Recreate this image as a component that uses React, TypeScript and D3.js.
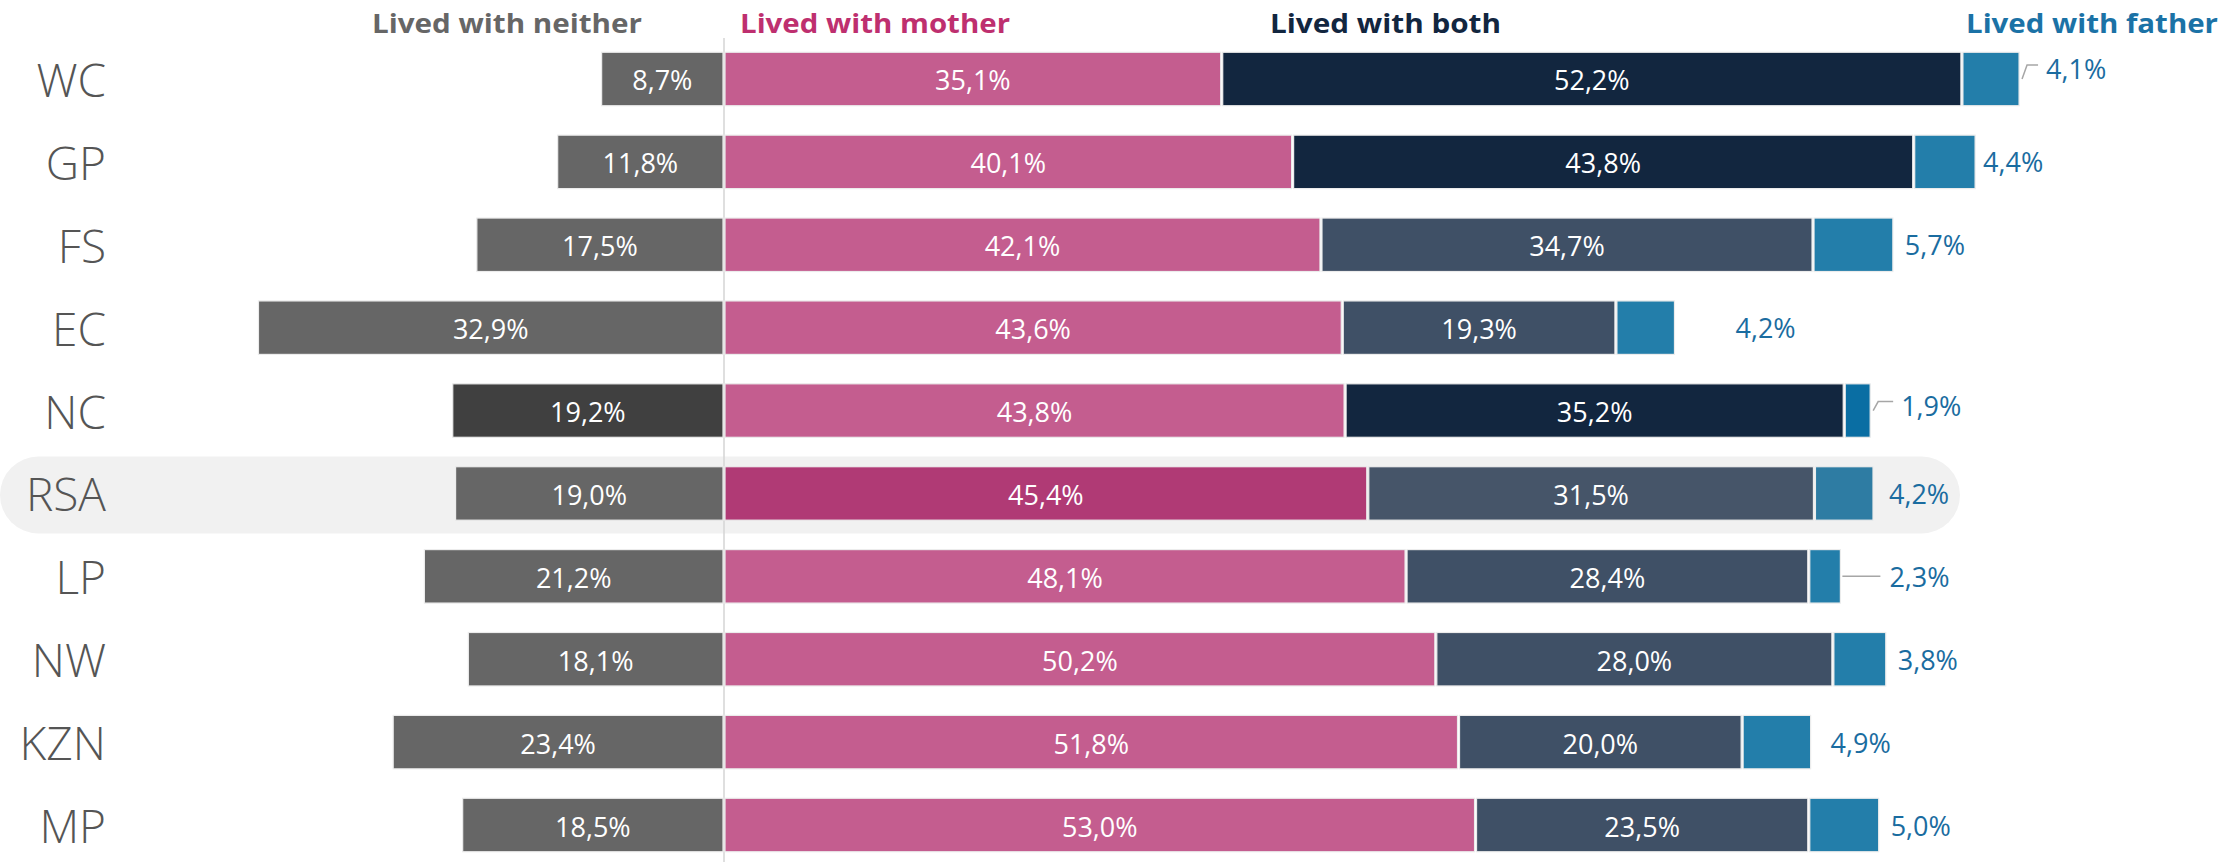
import { scaleBand, scaleLinear } from "d3"

const W = 2238, H = 862

const regions = ["WC", "GP", "FS", "EC", "NC", "RSA", "LP", "NW", "KZN", "MP"]
const neither = [8.7, 11.8, 17.5, 32.9, 19.2, 19.0, 21.2, 18.1, 23.4, 18.5]
const mother = [35.1, 40.1, 42.1, 43.6, 43.8, 45.4, 48.1, 50.2, 51.8, 53.0]
const both = [52.2, 43.8, 34.7, 19.3, 35.2, 31.5, 28.4, 28.0, 20.0, 23.5]
const father = [4.1, 4.4, 5.7, 4.2, 1.9, 4.2, 2.3, 3.8, 4.9, 5.0]

// layout tweaks for the outside father labels (gap from bar end, lift, leader kind)
const fatherGap: Record<string, number> = { WC: 26, GP: 7, FS: 11, EC: 60, NC: 30, RSA: 15, LP: 48, NW: 11, KZN: 19, MP: 11 }
const fatherLift: Record<string, number> = { WC: 10, NC: 5 }
const leader: Record<string, "bent" | "flat"> = { WC: "bent", NC: "bent", LP: "flat" }

const C = {
  neither: "#666666",
  mother: "#c45d8f",
  both: "#3f5066",
  bothDark: "#12263f",
  father: "#237eaa",
}
const darkBoth = new Set(["WC", "GP", "NC"])
const FONT = "'Open Sans', 'Segoe UI', sans-serif"

const fmt = (v: number) => v.toFixed(1).replace(".", ",") + "%"

export default function App() {
  const x = scaleLinear().domain([0, 100]).range([724, 724 + 1418])
  const y = scaleBand<string>().domain(regions).range([37.55, 866.45]).paddingInner(0.355).paddingOuter(0.1775)
  const bw = y.bandwidth()

  const segColor = (k: string, r: string) => {
    if (k === "neither") return r === "NC" ? "#404040" : C.neither
    if (k === "mother") return r === "RSA" ? "#b03a75" : C.mother
    if (k === "both") return r === "RSA" ? "#465569" : darkBoth.has(r) ? C.bothDark : C.both
    return r === "NC" ? "#0a6ea3" : r === "RSA" ? "#2e7ca3" : C.father
  }

  const ri = regions.indexOf("RSA")
  const rsaEnd = x(mother[ri] + both[ri] + father[ri])
  const rsaC = (y("RSA") ?? 0) + bw / 2

  return (
    <svg width={W} height={H} style={{ position: "absolute", left: 0, top: 0, fontFamily: FONT }}>
      <rect x={0} y={rsaC - 37} width={rsaEnd + 86} height={77} rx={38.5} fill="#f1f1f1" />

      <line x1={x(0)} x2={x(0)} y1={38} y2={H} stroke="#d4d4d4" strokeWidth={1.5} />

      {/* legend headers */}
      <g fontSize={27} fontWeight={700}>
        <text x={642} y={33} textAnchor="end" fill="#666666" textLength={270} lengthAdjust="spacingAndGlyphs">Lived with neither</text>
        <text x={740} y={33} fill="#be2f6f" textLength={270} lengthAdjust="spacingAndGlyphs">Lived with mother</text>
        <text x={1270} y={33} fill="#12263f" textLength={231} lengthAdjust="spacingAndGlyphs">Lived with both</text>
        <text x={1966} y={33} fill="#1b72a6" textLength={252} lengthAdjust="spacingAndGlyphs">Lived with father</text>
      </g>

      {regions.map((r, i) => {
        const top = y(r) ?? 0
        const cy = top + bw / 2
        const segs = [
          { k: "neither", x0: x(-neither[i]), x1: x(0), v: neither[i] },
          { k: "mother", x0: x(0), x1: x(mother[i]), v: mother[i] },
          { k: "both", x0: x(mother[i]), x1: x(mother[i] + both[i]), v: both[i] },
          { k: "father", x0: x(mother[i] + both[i]), x1: x(mother[i] + both[i] + father[i]), v: father[i] },
        ]
        const end = segs[3].x1
        const gap = fatherGap[r] ?? 10
        const lift = fatherLift[r] ?? 0
        const ld = leader[r]
        return (
          <g key={r}>
            <text x={106} y={cy} textAnchor="end" dominantBaseline="central" fontSize={46} fontWeight={300} fill="#555555">{r}</text>
            {segs.map(s => (
              <rect key={s.k} x={s.x0 + 1} y={top} width={Math.max(s.x1 - s.x0 - 2, 0)} height={bw}
                fill={segColor(s.k, r)} stroke="#ececec" strokeWidth={1.2} />
            ))}
            {segs.slice(0, 3).map(s => (
              <text key={s.k} x={(s.x0 + s.x1) / 2} y={cy + 1} textAnchor="middle" dominantBaseline="central"
                fontSize={27} fontWeight={400} fill="#ffffff">{fmt(s.v)}</text>
            ))}
            {ld === "bent" && (
              <polyline points={`${end + 2},${cy} ${end + 7},${cy - lift - 4} ${end + gap - 8},${cy - lift - 4}`}
                fill="none" stroke="#a6a6a6" strokeWidth={1.5} />
            )}
            {ld === "flat" && (
              <line x1={end + 1} x2={end + gap - 9} y1={cy} y2={cy} stroke="#a6a6a6" strokeWidth={1.5} />
            )}
            <text x={end + gap} y={cy - lift} dominantBaseline="central" fontSize={27} fontWeight={400} fill="#1a6ca0">{fmt(father[i])}</text>
          </g>
        )
      })}
    </svg>
  )
}
